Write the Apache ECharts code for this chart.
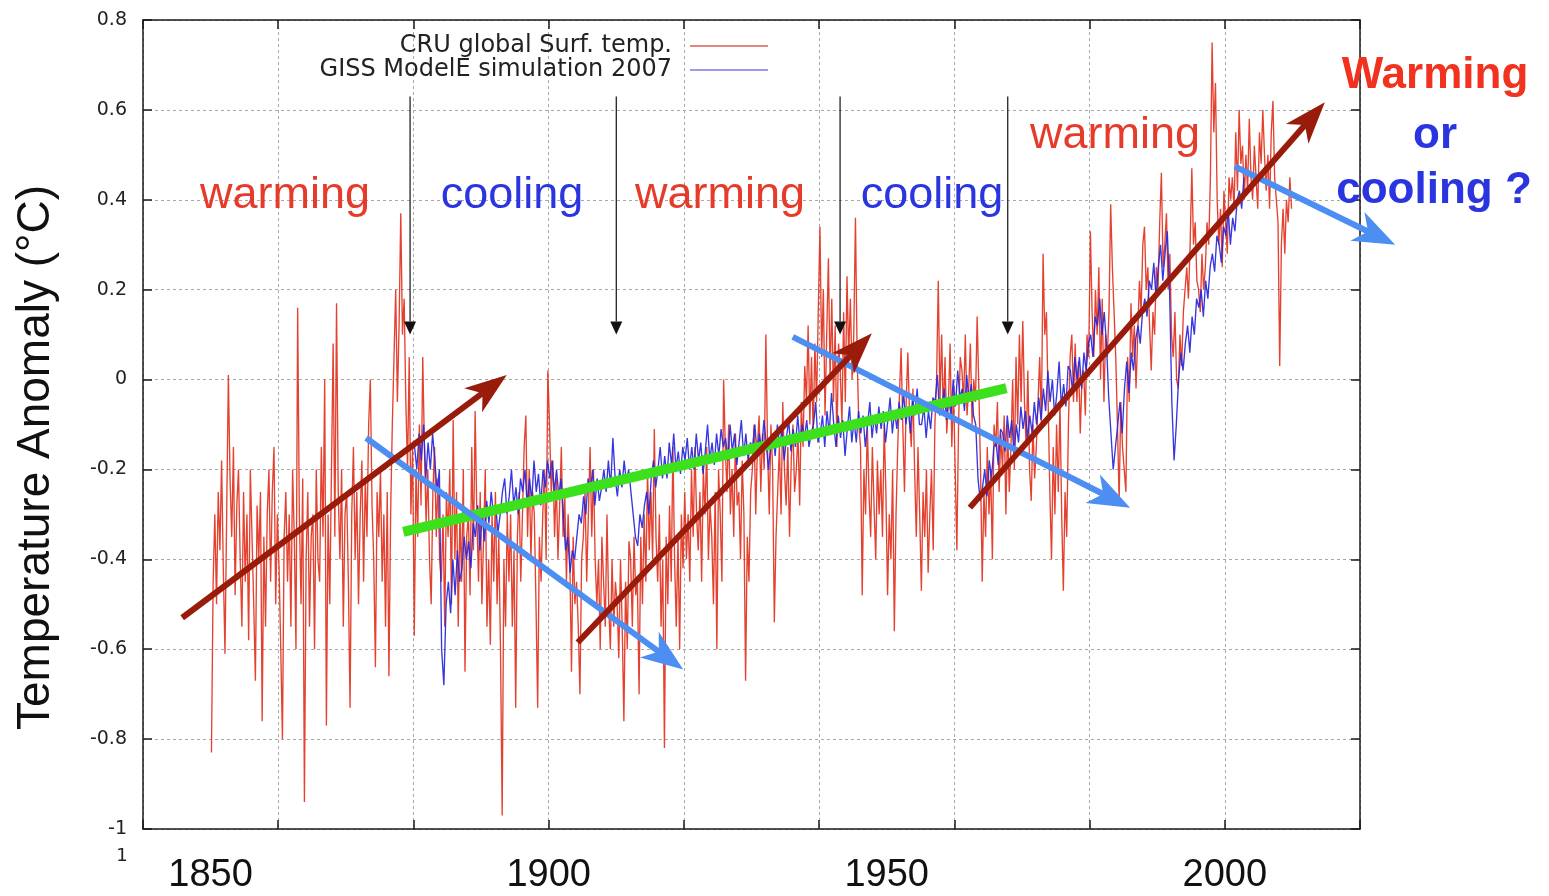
<!DOCTYPE html>
<html>
<head>
<meta charset="utf-8">
<title>Temperature Anomaly</title>
<script src="https://cdn.jsdelivr.net/npm/echarts@6/dist/echarts.min.js"></script>
<style>
  html, body { margin: 0; padding: 0; background: #ffffff; }
  #chart { width: 1549px; height: 896px; }
</style>
</head>
<body>
<div id="chart"></div>
<script>
// CRU global surface temperature anomaly (°C), four samples per year from 1850
const cruStart = 1850;
const cruPerYear = 4;
const cruTemp = [
  // 1850s
  -.83,-.45,-.30,-.50, -.25,-.38,-.18,-.42, -.61,-.30,.01,-.22, -.35,-.15,-.48,-.28, -.20,-.40,-.55,-.25,
  -.45,-.30,-.58,-.20, -.35,-.50,-.67,-.28, -.40,-.25,-.76,-.35, -.55,-.30,-.20,-.45, -.25,-.15,-.50,-.30,
  // 1860s
  -.42,-.60,-.80,-.35, -.25,-.45,-.30,-.55, -.20,-.35,-.60,.16, -.30,-.50,-.22,-.94, -.40,-.25,-.55,-.35,
  -.30,-.60,-.20,-.40, -.45,-.15,-.35,.00, -.77,-.30,-.50,-.20, .08,-.35,.17,-.25, -.40,-.20,-.55,-.30,
  // 1870s
  -.25,-.45,-.73,-.30, -.15,-.40,-.25,-.50, -.30,-.18,-.45,-.22, -.35,-.10,.00,-.28, -.40,-.64,-.25,-.35,
  -.20,-.45,-.30,-.55, -.25,-.66,-.30,-.10, .05,.20,-.05,.12, .37,.10,.18,-.05, -.20,.05,-.30,-.15,
  // 1880s
  -.57,-.20,-.35,-.10, -.28,.05,-.15,-.32, -.20,-.40,-.50,-.25, -.15,-.35,-.22,-.40, -.45,-.30,-.55,-.25,
  -.35,-.20,-.50,-.09, -.40,-.25,-.55,-.30, -.45,-.20,-.65,-.35, -.30,-.48,-.15,-.38, -.07,-.30,-.45,-.25,
  // 1890s
  -.50,-.35,-.20,-.55, -.40,-.59,-.30,-.45, -.25,-.50,-.35,-.60, -.97,-.40,-.55,-.30, -.45,-.30,-.55,-.38,
  -.73,-.35,-.25,-.45, -.30,-.15,-.08,-.35, -.20,-.40,-.25,-.30, -.50,-.73,-.35,-.45, -.30,-.20,-.40,.02,
  // 1900s
  -.10,-.25,-.18,-.35, -.22,-.40,-.28,-.15, -.35,-.25,-.45,-.30, -.40,-.65,-.35,-.50, -.45,-.55,-.70,-.40,
  -.35,-.25,-.45,-.30, -.15,-.35,-.20,-.40, -.50,-.40,-.60,-.35, -.45,-.55,-.30,-.50, -.60,-.40,-.55,-.45,
  // 1910s
  -.50,-.62,-.40,-.55, -.76,-.45,-.60,-.36, -.40,-.55,-.35,-.48, -.45,-.70,-.35,-.50, -.30,-.45,-.20,-.38,
  -.25,-.40,-.11,-.35, -.45,-.30,-.55,-.40, -.82,-.35,-.50,-.28, -.45,-.15,-.40,-.55, -.35,-.60,-.30,-.42,
  // 1920s
  -.25,-.40,-.30,-.45, -.20,-.35,-.15,-.30, -.38,-.25,-.45,-.20, -.30,-.15,-.40,-.28, -.35,-.50,-.25,-.60,
  -.20,-.30,-.45,.00, -.15,-.25,-.10,-.30, -.20,-.35,-.12,-.28, -.25,-.40,-.18,-.30, -.67,-.35,-.45,-.25,
  // 1930s
  -.20,-.10,-.30,-.15, -.08,-.25,-.12,-.20, .10,-.15,-.30,-.10, -.20,-.54,-.35,-.25, -.15,-.30,-.05,-.20,
  -.28,-.15,-.35,-.18, -.10,-.25,-.20,-.12, -.28,-.05,-.15,.03, -.05,.12,-.10,.05, -.12,.08,-.05,.15,
  // 1940s
  .34,.05,.20,-.08, .10,.27,.00,.18, -.05,.12,-.15,.08, .02,-.10,.15,-.05, .23,.05,.18,.00,
  .10,.36,.05,-.10, -.15,-.48,-.20,-.30, -.10,-.25,-.35,-.15, -.28,-.40,-.18,-.30, -.20,-.35,-.10,-.25,
  // 1950s
  -.48,-.30,-.40,-.20, -.56,-.30,-.15,-.04, .07,-.10,-.25,-.05, .06,-.08,-.15,-.02, -.20,-.35,-.15,-.30,
  -.47,-.25,-.35,-.20, -.43,-.30,-.20,-.38, -.10,.00,.22,-.05, .10,-.08,.05,-.12, -.05,.08,-.15,-.02,
  // 1960s
  -.20,-.38,-.10,.05, .02,-.05,.10,-.08, -.02,.08,-.10,.00, -.05,.14,-.02,-.20, -.45,-.25,-.35,-.15,
  -.30,-.20,-.40,-.10, -.15,-.05,-.25,-.12, -.20,-.08,-.30,-.10, -.25,-.15,.00,-.20, .05,-.10,.10,-.05,
  // 1970s
  .13,-.05,-.15,.02, -.20,-.27,-.10,-.22, -.15,-.05,.05,-.10, .28,.10,.15,-.05, -.25,-.40,-.15,-.30,
  -.10,-.25,-.05,-.30, -.47,-.25,-.35,-.10, .05,.10,-.05,.08, -.05,.04,-.12,.00, .02,-.08,.10,.05,
  // 1980s
  .33,.15,.05,.20, .10,.25,.00,.18, -.05,.10,.05,.15, .39,.25,.15,.05, -.10,-.27,-.05,-.15,
  -.15,-.25,.05,-.05, .17,.05,.12,-.02, .10,.22,.15,.30, .34,.20,.25,.12, .02,.15,.10,.25,
  // 1990s
  .20,.35,.46,.25, .30,.37,.20,.28, .10,.05,.15,.00, -.02,.10,.03,.15, .15,.25,.18,.30,
  .47,.30,.35,.22, .20,.15,.28,.20, .25,.35,.30,.45, .75,.55,.66,.40, .30,.38,.25,.42,
  // 2000s
  .35,.28,.45,.40, .45,.38,.55,.42, .60,.48,.52,.40, .50,.42,.58,.45, .40,.52,.45,.38,
  .55,.48,.60,.50, .42,.50,.38,.55, .62,.45,.40,.35, .03,.30,.38,.28, .40,.35,.45,.38
];

// GISS ModelE 2007 simulated anomaly (°C), three samples per year from 1880
const gissStart = 1880;
const gissPerYear = 3;
const gissTemp = [
  // 1880s
  -.15,-.20,-.12, -.18,-.10,-.22, -.14,-.20,-.12, -.18,-.25,-.20, -.60,-.68,-.50,
  -.45,-.52,-.40, -.48,-.38,-.45, -.42,-.35,-.40, -.36,-.42,-.32, -.35,-.28,-.38,
  // 1890s
  -.30,-.36,-.27, -.32,-.25,-.30, -.28,-.34,-.30, -.25,-.22,-.30, -.26,-.20,-.28,
  -.24,-.30,-.22, -.25,-.20,-.28, -.22,-.27,-.18, -.25,-.21,-.28, -.20,-.24,-.18,
  // 1900s
  -.22,-.18,-.25, -.20,-.26,-.22, -.30,-.38,-.35, -.43,-.38,-.40, -.35,-.30,-.32,
  -.26,-.30,-.22, -.25,-.20,-.28, -.22,-.27,-.24, -.20,-.25,-.18, -.24,-.13,-.22,
  // 1910s
  -.26,-.20,-.24, -.18,-.23,-.20, -.25,-.30,-.35, -.37,-.30,-.33, -.28,-.25,-.30,
  -.22,-.18,-.24, -.20,-.15,-.22, -.17,-.22,-.14, -.19,-.12,-.20, -.16,-.21,-.15,
  // 1920s
  -.18,-.13,-.20, -.15,-.20,-.12, -.18,-.14,-.21, -.16,-.10,-.18, -.14,-.19,-.12,
  -.17,-.11,-.15, -.13,-.18,-.10, -.16,-.12,-.19, -.14,-.09,-.17, -.12,-.18,-.14,
  // 1930s
  -.15,-.10,-.17, -.12,-.16,-.09, -.14,-.20,-.15, -.12,-.17,-.10, -.15,-.11,-.18,
  -.13,-.09,-.16, -.11,-.15,-.08, -.14,-.10,-.13, -.09,-.15,-.12, -.10,-.05,-.14,
  // 1940s
  -.12,-.08,-.15, -.07,-.12,-.03, -.10,-.15,-.08, -.13,-.09,-.17, -.11,-.06,-.14,
  -.09,-.14,-.07, -.12,-.08,-.15, -.10,-.05,-.13, -.08,-.12,-.06, -.11,-.07,-.14,
  // 1950s
  -.09,-.04,-.12, -.07,-.11,-.05, -.09,-.03,-.10, -.06,-.12,-.04, -.08,-.02,-.10,
  -.10,-.06,-.13, -.07,-.11,-.04, -.05,.01,-.08, -.06,-.02,-.09, -.04,-.08,.00,
  // 1960s
  -.06,.02,-.04, -.02,-.07,.01, -.05,-.01,-.08, -.10,-.22,-.27, -.24,-.20,-.26,
  -.18,-.22,-.15, -.14,-.19,-.11, -.12,-.16,-.08, -.13,-.09,-.17, -.10,-.14,-.06,
  // 1970s
  -.11,-.07,-.13, -.08,-.12,-.05, -.10,-.04,-.09, -.02,-.07,.02, -.05,.00,-.08,
  -.03,.04,-.06, -.01,-.06,.03, .02,-.03,.05, .00,.05,-.02, .06,.02,.08,
  // 1980s
  .10,.05,.14, .12,.18,.10, .15,.08,-.04, -.12,-.20,-.15, -.10,-.05,-.12,
  -.02,.04,-.03, .06,.02,.09, .12,.08,.15, .18,.14,.22, .20,.26,.18,
  // 1990s
  .25,.30,.22, .28,.33,.20, -.05,-.18,-.10, .00,.06,.02, .08,.12,.06,
  .14,.10,.18, .16,.20,.14, .22,.18,.25, .28,.24,.32, .30,.26,.34,
  // 2000s
  .32,.38,.30, .36,.33,.40, .42,.38,.45
];

// Axis ticks and year labels
const yearLabels = [1850, 1900, 1950, 2000];
const yearTickStep = 20;
const tempTickStep = 0.2;

// Trend arrows: [fromYear, fromTemp, toYear, toTemp]
const warmingArrows = [
  [1845.8, -0.53, 1893.8, 0.01],
  [1904.3, -0.585, 1947.8, 0.103],
  [1962.3, -0.285, 2014.8, 0.617]
];
const coolingArrows = [
  [1873.0, -0.13, 1919.9, -0.645],
  [1936.1, 0.095, 1986.0, -0.285],
  [2001.5, 0.474, 2025.2, 0.30]
];
const longTrend = [[1878.5, -0.339, 1967.7, -0.019]];

// Turning points marked with small arrows (year, arrow top, arrow tip)
const turningYears = [1879.5, 1910.0, 1943.1, 1967.9];
const turningTop = 0.63;
const turningTip = 0.10;

const RED = '#e63b2a';
const BLUE = '#2a35e0';

function seriesPoints(values, start, perYear) {
  return values.map((v, i) => [start + (i + 0.5) / perYear, v]);
}

// Straight segment with an optional (notched) arrowhead, placed in data coordinates
function arrowSeries(name, rows, look) {
  return {
    type: 'custom',
    name: name,
    silent: true,
    clip: false,
    z: look.z,
    data: rows,
    encode: { x: [0, 2], y: [1, 3] },
    renderItem: function (params, api) {
      const a = api.coord([api.value(0), api.value(1)]);
      const b = api.coord([api.value(2), api.value(3)]);
      const dx = b[0] - a[0], dy = b[1] - a[1];
      const len = Math.hypot(dx, dy) || 1;
      const ux = dx / len, uy = dy / len, nx = -uy, ny = ux;
      const kids = [];
      let end = b;
      if (look.headLen) {
        const bx = b[0] - ux * look.headLen, by = b[1] - uy * look.headLen;
        end = [b[0] - ux * look.headLen * look.notch, b[1] - uy * look.headLen * look.notch];
        kids.push({
          type: 'polygon',
          shape: { points: [[b[0], b[1]], [bx + nx * look.headHalf, by + ny * look.headHalf], end, [bx - nx * look.headHalf, by - ny * look.headHalf]] },
          style: { fill: look.color }
        });
      }
      kids.unshift({
        type: 'line',
        shape: { x1: a[0], y1: a[1], x2: end[0], y2: end[1] },
        style: { stroke: look.color, lineWidth: look.width, lineCap: 'butt' }
      });
      return { type: 'group', children: kids };
    }
  };
}

const frameColor = '#1a1a1a';
const gridLine = { show: true, lineStyle: { color: '#a8a8a8', width: 1, type: [3, 3] } };

function note(text, x, y, color, bold) {
  return {
    type: 'text', x: x, y: y, z: 50,
    style: {
      text: text, fill: color, align: 'center', verticalAlign: 'middle',
      fontSize: bold ? 44 : 45, fontWeight: bold ? 'bold' : 'normal',
      fontFamily: 'Liberation Sans, Arial, sans-serif'
    }
  };
}

const chart = echarts.init(document.getElementById('chart'), null, { renderer: 'canvas' });

chart.setOption({
  backgroundColor: '#ffffff',
  animation: false,
  grid: { left: 143, top: 20, width: 1217, height: 809, containLabel: false },
  legend: {
    orient: 'vertical', right: 781, top: 34, align: 'right', padding: 0,
    icon: 'rect', itemWidth: 78, itemHeight: 1.3, itemGap: 0,
    textStyle: { fontSize: 24, lineHeight: 23, fontFamily: 'DejaVu Sans, sans-serif', color: '#222', padding: [0, 13, 0, 0] },
    data: ['CRU global Surf. temp.', 'GISS ModelE simulation 2007']
  },
  xAxis: [{
    type: 'value', position: 'bottom', min: 1840, max: 2020, interval: yearTickStep,
    axisLine: { show: true, onZero: false, lineStyle: { color: frameColor, width: 1.5 } },
    axisTick: { show: true, inside: true, length: 9, lineStyle: { color: frameColor, width: 1.5 } },
    splitLine: gridLine,
    axisLabel: {
      customValues: yearLabels, margin: 28, fontSize: 38, color: '#111',
      fontFamily: 'Liberation Sans, Arial, sans-serif',
      formatter: v => String(v)
    }
  }, {
    type: 'value', position: 'top', min: 1840, max: 2020, interval: yearTickStep,
    axisLine: { show: true, onZero: false, lineStyle: { color: frameColor, width: 1.5 } },
    axisTick: { show: true, inside: true, length: 9, lineStyle: { color: frameColor, width: 1.5 } },
    axisLabel: { show: false }, splitLine: { show: false }
  }],
  yAxis: [{
    type: 'value', position: 'left', min: -1, max: 0.8, interval: tempTickStep,
    name: 'Temperature Anomaly (°C)', nameLocation: 'middle', nameGap: 84, nameRotate: 90,
    nameTextStyle: { fontSize: 46, color: '#111', fontFamily: 'Liberation Sans, Arial, sans-serif', padding: [0, 66, 0, 0] },
    axisLine: { show: true, onZero: false, lineStyle: { color: frameColor, width: 1.5 } },
    axisTick: { show: true, inside: true, length: 9, lineStyle: { color: frameColor, width: 1.5 } },
    splitLine: gridLine,
    axisLabel: { margin: 16, fontSize: 19, color: '#222', fontFamily: 'DejaVu Sans, sans-serif' }
  }, {
    type: 'value', position: 'right', min: -1, max: 0.8, interval: tempTickStep,
    axisLine: { show: true, onZero: false, lineStyle: { color: frameColor, width: 1.5 } },
    axisTick: { show: true, inside: true, length: 9, lineStyle: { color: frameColor, width: 1.5 } },
    axisLabel: { show: false }, splitLine: { show: false }
  }],
  series: [
    {
      name: 'CRU global Surf. temp.', type: 'line', xAxisIndex: 0, yAxisIndex: 0,
      data: seriesPoints(cruTemp, cruStart, cruPerYear),
      showSymbol: false, symbol: 'none', z: 2,
      lineStyle: { color: '#e2321e', width: 1.35, opacity: 0.92 },
      itemStyle: { color: '#d9604f' }
    },
    {
      name: 'GISS ModelE simulation 2007', type: 'line', xAxisIndex: 0, yAxisIndex: 0,
      data: seriesPoints(gissTemp, gissStart, gissPerYear),
      showSymbol: false, symbol: 'none', z: 3,
      lineStyle: { color: '#2626dc', width: 1.35, opacity: 0.92 },
      itemStyle: { color: '#7a7ae8' }
    },
    arrowSeries('turning points', turningYears.map(y => [y, turningTop, y, turningTip]),
      { color: '#111', width: 1.2, headLen: 13, headHalf: 6, notch: 1, z: 4 }),
    arrowSeries('long trend', longTrend, { color: '#3de01c', width: 10, z: 5 }),
    arrowSeries('cooling', coolingArrows, { color: '#4d8ef2', width: 6, headLen: 42, headHalf: 16, notch: 0.72, z: 6 }),
    arrowSeries('warming', warmingArrows, { color: '#991c0b', width: 6, headLen: 42, headHalf: 15, notch: 0.72, z: 7 })
  ],
  graphic: [
    note('warming', 285, 196, RED, false),
    note('cooling', 512, 196, BLUE, false),
    note('warming', 720, 196, RED, false),
    note('cooling', 932, 196, BLUE, false),
    note('warming', 1115, 136, RED, false),
    note('Warming', 1435, 76, '#f0321e', true),
    note('or', 1435, 136, BLUE, true),
    note('cooling ?', 1434, 191, BLUE, true),
    {
      type: 'text', x: 122, y: 856, z: 50,
      style: { text: '1', fill: '#222', align: 'center', verticalAlign: 'middle', fontSize: 18, fontFamily: 'DejaVu Sans, sans-serif' }
    }
  ]
});
</script>
</body>
</html>
